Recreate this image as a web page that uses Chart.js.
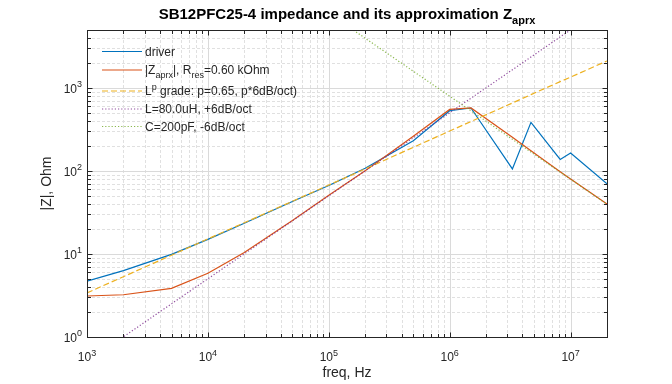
<!DOCTYPE html>
<html>
<head>
<meta charset="utf-8">
<script src="https://cdn.jsdelivr.net/npm/chart.js@4"></script>
<style>
  html, body { margin: 0; padding: 0; background: #fff; }
  canvas { display: block; }
</style>
</head>
<body>
<canvas id="zChart" width="672" height="384"></canvas>
<script>
// frequency points, Hz
const freq = [1e3, 2e3, 5e3, 1e4, 2e4, 5e4, 1e5, 2e5, 5e5, 1e6, 1.5e6, 3.3e6, 4.7e6, 8.2e6, 1e7, 2e7];
// |Z| in Ohm
const zDriver = [4.7, 6.3, 9.9, 15.0, 23.5, 43, 67, 108, 232, 533, 574, 106, 386, 138, 165, 70];
const zAprx   = [3.12, 3.23, 3.86, 5.85, 10.4, 25.4, 51, 101, 262, 552, 576, 255, 175, 98, 80, 40];
const zLp     = [3.40, 5.33, 9.67, 15.2, 23.8, 43.2, 67.8, 106, 193, 303, 395, 660, 832, 1195, 1353, 2120];
const zL      = [0.503, 1.005, 2.51, 5.03, 10.05, 25.1, 50.3, 100.5, 251, 503, 754, 1659, 2362, 4122, 5027, 10053];
const zC      = [795800, 397900, 159200, 79580, 39790, 15920, 7958, 3979, 1592, 796, 531, 241, 169, 97, 79.6, 39.8];
// axis ticks (decade exponents)
const xTickExp = [3, 4, 5, 6, 7];
const yTickExp = [0, 1, 2, 3];
const xRange = [1e3, 2e7];
const yRange = [1, 5000];

const FONT = "'Liberation Sans', Arial, Helvetica, sans-serif";
const INK = '#262626';

const pts = ys => freq.map((f, i) => ({ x: f, y: ys[i] }));

const series = [
  { label: 'driver', data: pts(zDriver), color: '#0072BD', dash: [], order: 5 },
  { label: 'aprx', data: pts(zAprx), color: '#D95319', dash: [], order: 4 },
  { label: 'Lp', data: pts(zLp), color: '#EDB120', dash: [6, 3], order: 3 },
  { label: 'L', data: pts(zL), color: 'rgba(126,47,142,0.85)', dash: [1.2, 2], order: 2 },
  { label: 'C', data: pts(zC), color: 'rgba(119,172,48,0.85)', dash: [1.2, 2], order: 1 }
];

const legendRows = [
  { y: 51.5, parts: [{ t: 'driver' }] },
  { y: 70, parts: [{ t: '|Z' }, { t: 'aprx', sub: true }, { t: '|, R' }, { t: 'res', sub: true }, { t: '=0.60 kOhm' }] },
  { y: 91, parts: [{ t: 'L' }, { t: 'p', sup: true }, { t: ' grade: p=0.65, p*6dB/oct)' }] },
  { y: 109, parts: [{ t: 'L=80.0uH, +6dB/oct' }] },
  { y: 126.5, parts: [{ t: 'C=200pF, -6dB/oct' }] }
];

function richWidth(ctx, parts, size, bold) {
  let w = 0;
  parts.forEach(p => {
    const s = (p.sub || p.sup) ? Math.round(size * 0.75) : size;
    ctx.font = (bold ? 'bold ' : '') + s + 'px ' + FONT;
    w += ctx.measureText(p.t).width;
  });
  return w;
}

function drawRich(ctx, parts, x, y, size, bold) {
  parts.forEach(p => {
    const s = (p.sub || p.sup) ? Math.round(size * 0.75) : size;
    ctx.font = (bold ? 'bold ' : '') + s + 'px ' + FONT;
    const dy = p.sub ? size * 0.35 : p.sup ? -size * 0.45 : 0;
    ctx.fillText(p.t, x, y + dy);
    x += ctx.measureText(p.t).width;
  });
}

function gridValues(range) {
  const out = [];
  for (let e = Math.floor(Math.log10(range[0])); e <= Math.ceil(Math.log10(range[1])); e++) {
    for (let m = 1; m <= 9; m++) {
      const v = m * Math.pow(10, e);
      if (v >= range[0] && v <= range[1]) out.push({ v, major: m === 1 });
    }
  }
  return out;
}

const matlabAxes = {
  id: 'matlabAxes',
  beforeDatasetsDraw(chart) {
    const { ctx, chartArea: a, scales: { x, y } } = chart;
    ctx.save();
    ctx.lineWidth = 1;
    gridValues(xRange).forEach(g => {
      const px = Math.round(x.getPixelForValue(g.v)) + 0.5;
      ctx.strokeStyle = g.major ? '#dadada' : '#e0e0e0';
      ctx.setLineDash(g.major ? [] : [3, 2]);
      ctx.beginPath(); ctx.moveTo(px, a.top); ctx.lineTo(px, a.bottom); ctx.stroke();
    });
    gridValues(yRange).forEach(g => {
      const py = Math.round(y.getPixelForValue(g.v)) + 0.5;
      ctx.strokeStyle = g.major ? '#dadada' : '#e0e0e0';
      ctx.setLineDash(g.major ? [] : [3, 2]);
      ctx.beginPath(); ctx.moveTo(a.left, py); ctx.lineTo(a.right, py); ctx.stroke();
    });
    ctx.restore();
  },
  afterDatasetsDraw(chart) {
    const { ctx, chartArea: a, scales: { x, y } } = chart;
    const L = Math.round(a.left) + 0.5, R = Math.round(a.right) + 0.5;
    const T = Math.round(a.top) + 0.5, B = Math.round(a.bottom) + 0.5;
    ctx.save();
    ctx.strokeStyle = INK; ctx.fillStyle = INK; ctx.lineWidth = 1; ctx.setLineDash([]);
    ctx.strokeRect(L, T, R - L, B - T);
    // ticks inside the box on all four sides
    ctx.beginPath();
    gridValues(xRange).forEach(g => {
      const px = Math.round(x.getPixelForValue(g.v)) + 0.5, len = g.major ? 5 : 3.5;
      ctx.moveTo(px, B); ctx.lineTo(px, B - len);
      ctx.moveTo(px, T); ctx.lineTo(px, T + len);
    });
    gridValues(yRange).forEach(g => {
      const py = Math.round(y.getPixelForValue(g.v)) + 0.5, len = g.major ? 5 : 3.5;
      ctx.moveTo(L, py); ctx.lineTo(L + len, py);
      ctx.moveTo(R, py); ctx.lineTo(R - len, py);
    });
    ctx.stroke();

    // tick labels 10^n
    ctx.textBaseline = 'alphabetic'; ctx.textAlign = 'left';
    xTickExp.forEach(e => {
      const parts = [{ t: '10' }, { t: String(e), sup: true }];
      const w = richWidth(ctx, parts, 12);
      drawRich(ctx, parts, x.getPixelForValue(Math.pow(10, e)) - w / 2, 361, 12);
    });
    yTickExp.forEach(e => {
      const parts = [{ t: '10' }, { t: String(e), sup: true }];
      const w = richWidth(ctx, parts, 12);
      drawRich(ctx, parts, 82 - w, y.getPixelForValue(Math.pow(10, e)) + 4.5, 12);
    });

    // axis titles
    ctx.font = '14px ' + FONT; ctx.textAlign = 'center';
    ctx.fillText('freq, Hz', (a.left + a.right) / 2, 377);
    ctx.save();
    ctx.translate(47, (a.top + a.bottom) / 2);
    ctx.rotate(-Math.PI / 2);
    ctx.textBaseline = 'middle';
    ctx.fillText('|Z|, Ohm', 0, 0);
    ctx.restore();

    // title
    ctx.textAlign = 'left'; ctx.fillStyle = '#000';
    const tparts = [{ t: 'SB12PFC25-4 impedance and its approximation Z' }, { t: 'aprx', sub: true }];
    const tw = richWidth(ctx, tparts, 15, true);
    drawRich(ctx, tparts, (a.left + a.right) / 2 - tw / 2, 19, 15, true);

    // legend (no box)
    ctx.fillStyle = INK;
    legendRows.forEach((row, i) => {
      const s = series[i];
      ctx.strokeStyle = s.color; ctx.setLineDash(s.dash); ctx.lineWidth = 1.2;
      ctx.beginPath(); ctx.moveTo(102, row.y); ctx.lineTo(142, row.y); ctx.stroke();
      drawRich(ctx, row.parts, 145, row.y + 4, 12);
    });
    ctx.restore();
  }
};

new Chart(document.getElementById('zChart'), {
  type: 'line',
  data: {
    datasets: series.map(s => ({
      label: s.label, data: s.data, order: s.order,
      borderColor: s.color, borderDash: s.dash, borderWidth: 1.2,
      pointRadius: 0, tension: 0, fill: false
    }))
  },
  options: {
    responsive: false, animation: false, devicePixelRatio: 1,
    layout: { padding: { left: 87, right: 65, top: 30, bottom: 47 } },
    plugins: { legend: { display: false }, title: { display: false }, tooltip: { enabled: false } },
    scales: {
      x: { type: 'logarithmic', min: xRange[0], max: xRange[1], display: false },
      y: { type: 'logarithmic', min: yRange[0], max: yRange[1], display: false }
    }
  },
  plugins: [matlabAxes]
});
</script>
</body>
</html>
